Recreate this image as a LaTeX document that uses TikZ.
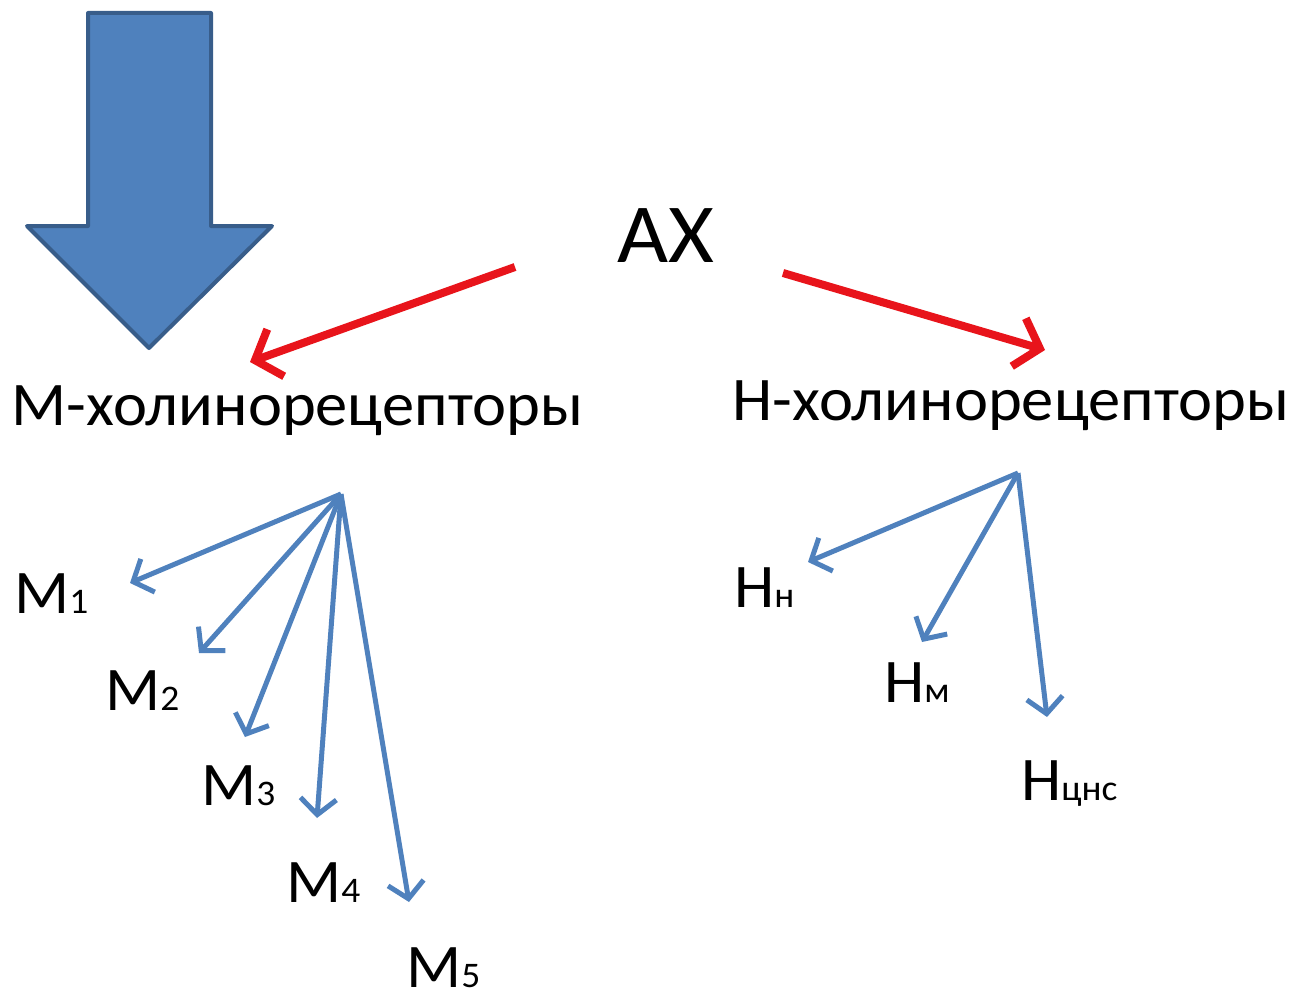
\documentclass[tikz,border=0pt]{standalone}
\usepackage{fontspec}
\setmainfont{Carlito}
\usetikzlibrary{arrows.meta}
\definecolor{accblue}{HTML}{4F81BD}
\definecolor{accborder}{HTML}{385D8A}
\definecolor{redarrow}{HTML}{E8141B}
\newcommand{\subsz}{\fontsize{36}{38}\selectfont}
\begin{document}
\begin{tikzpicture}[x=1pt,y=-1pt,
  bigtxt/.style={inner sep=0pt,anchor=base west,xscale=1.04,font=\fontsize{62}{64}\selectfont},
  axtxt/.style={inner sep=0pt,anchor=base west,xscale=1.05,font=\fontsize{84}{88}\selectfont},
  redarr/.style={draw=redarrow,line width=8pt,-{Straight Barb[length=22pt,width=50pt]}},
  bluearr/.style={draw=accblue,line width=5pt,-{Straight Barb[length=16pt,width=36pt]}}
]
\useasboundingbox (0,0) rectangle (1295,998);
% big arrow
\draw[fill=accblue,draw=accborder,line width=4pt,line join=round]
  (88,13) -- (211,13) -- (211,226) -- (272,226) -- (149,348) -- (27,226) -- (88,226) -- cycle;
% texts
\node[axtxt] (ax) at (617,262) {AX};
\node[bigtxt] (mrec) at (11,425) {М-холинорецепторы};
\node[bigtxt] (nrec) at (732,420) {Н-холинорецепторы};
\node[bigtxt] (m1) at (14,613) {M{\subsz 1}};
\node[bigtxt] (m2) at (105,710) {M{\subsz 2}};
\node[bigtxt] (m3) at (201,805) {M{\subsz 3}};
\node[bigtxt] (m4) at (286,902) {M{\subsz 4}};
\node[bigtxt] (m5) at (406,987) {M{\subsz 5}};
\node[bigtxt] (hn) at (734,607) {Н{\subsz н}};
\node[bigtxt] (hm) at (884,702) {Н{\subsz м}};
\node[bigtxt] (hc) at (1021,800) {Н{\subsz цнс}};
% red arrows
\coordinate (axl) at (515,267);
\coordinate (axr) at (783,273);
\coordinate (tl) at (250,362);
\coordinate (tr) at (1045,350);
\draw[redarr] (axl) -- (tl);
\draw[redarr] (axr) -- (tr);
% blue arrows left
\coordinate (mo) at (341,494);
\coordinate (tm1) at (130,583);
\coordinate (tm2) at (199,653);
\coordinate (tm3) at (245,737);
\coordinate (tm4) at (317,818);
\coordinate (tm5) at (409,902);
\foreach \t in {tm1,tm2,tm3,tm4,tm5} \draw[bluearr] (mo) -- (\t);
% blue arrows right
\coordinate (no) at (1018,473);
\coordinate (tn1) at (808,562);
\coordinate (tn2) at (922,642);
\coordinate (tn3) at (1047,717);
\foreach \t in {tn1,tn2,tn3} \draw[bluearr] (no) -- (\t);
\end{tikzpicture}
\end{document}
